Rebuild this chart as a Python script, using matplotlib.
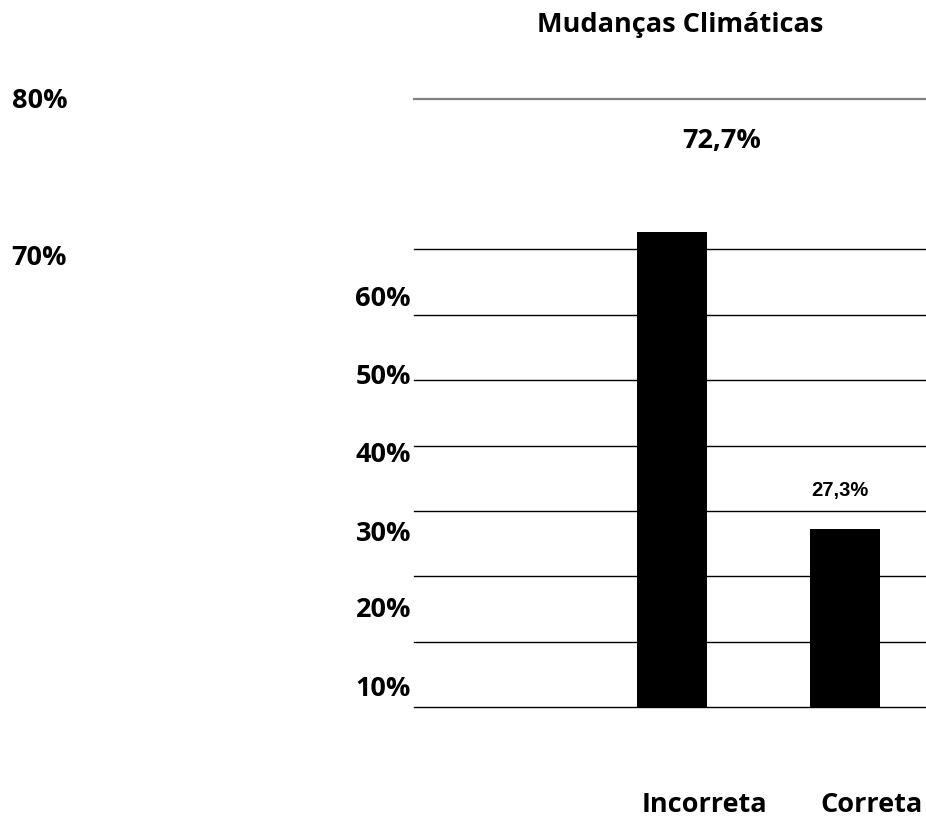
import matplotlib.pyplot as plt
from matplotlib.transforms import blended_transform_factory

plt.rcParams['font.family'] = ['Open Sans', 'DejaVu Sans']
plt.rcParams['font.weight'] = 'bold'

# Respostas sobre mudanças climáticas
categorias = ['Incorreta', 'Correta']
valores = [72.7, 27.3]
rotulos_y = ['80%', '70%', '60%', '50%', '40%', '30%', '20%', '10%']
titulo = 'Mudanças Climáticas'

W, H = 926, 817
fig = plt.figure(figsize=(W / 100, H / 100), dpi=100)


def px(x, y):
    return x / W, 1 - y / H


ax = fig.add_axes([414 / W, (H - 707.3) / H, (W - 414) / W, 608.6 / H])
ax.set_xlim(-1.491, 1.468)
ax.set_ylim(0, 93)

# linhas de grade
for g in range(0, 80, 10):
    ax.axhline(g, color='black', lw=1.0, zorder=1, clip_on=False)

xs = list(range(len(categorias)))
ax.bar(xs, valores, width=0.4, color='black', zorder=2)

for s in ['left', 'right', 'bottom']:
    ax.spines[s].set_visible(False)
ax.spines['top'].set_color('#808080')
ax.spines['top'].set_linewidth(1.6)
ax.set_xticks([])
ax.set_yticks([])

# rótulos de valor
ax.text(xs[0] + 0.29, 85.5, f'{valores[0]:.1f}%'.replace('.', ','),
        ha='center', va='baseline', fontsize=19.5)
ax.text(xs[1] - 0.03, 32.3, f'{valores[1]:.1f}%'.replace('.', ','),
        ha='center', va='baseline', fontsize=14.5, family='Liberation Sans')

# nomes das categorias
trans = blended_transform_factory(ax.transData, fig.transFigure)
for i, (c, dx) in enumerate(zip(categorias, [0.185, 0.153])):
    ax.text(xs[i] + dx, 1 - 812 / H, c, transform=trans,
            ha='center', va='baseline', fontsize=19.5)

# rótulos do eixo y
pos_y = [(11.7, 108, 'left'), (11.7, 265, 'left'), (411, 306, 'right'),
         (411, 384, 'right'), (411, 461.7, 'right'), (411, 540.7, 'right'),
         (411, 617.3, 'right'), (411, 696, 'right')]
for lbl, (x, y, ha) in zip(rotulos_y, pos_y):
    fig.text(*px(x, y), lbl, ha=ha, va='baseline', fontsize=19.5)

fig.text(*px(680, 32), titulo, ha='center', va='baseline', fontsize=19.5)

fig.savefig('out.png', dpi=100)
